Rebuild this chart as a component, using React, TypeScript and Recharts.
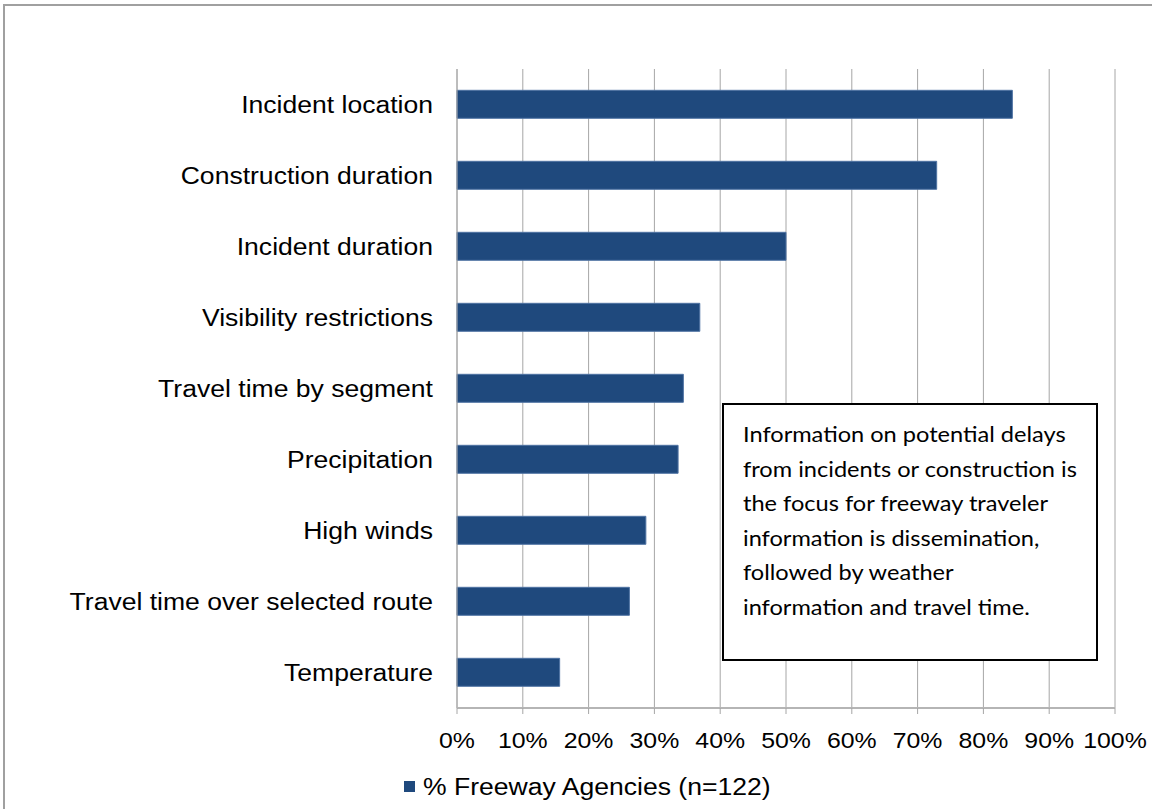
import React from "react";
import { BarChart, Bar, XAxis, YAxis, CartesianGrid, Legend } from "recharts";

const categories = [
  "Incident location",
  "Construction duration",
  "Incident duration",
  "Visibility restrictions",
  "Travel time by segment",
  "Precipitation",
  "High winds",
  "Travel time over selected route",
  "Temperature",
];
const values = [84.4, 72.9, 50.0, 36.9, 34.4, 33.6, 28.7, 26.2, 15.6];
const xTicks = [0, 10, 20, 30, 40, 50, 60, 70, 80, 90, 100];
const boundaryTicks = [0, 1, 2, 3, 4, 5, 6, 7, 8, 9];
const seriesName = "% Freeway Agencies (n=122)";
const noteLines = [
  "Information on potential delays",
  "from incidents or construction is",
  "the focus for freeway traveler",
  "information is dissemination,",
  "followed by weather",
  "information and travel time.",
];

const data = categories.map((name, i) => ({ name, value: values[i] }));

const FONT = "'Liberation Sans', Arial, sans-serif";
const GRID = "#a6a6a6";
const BAR = "#1f497d";
const STRETCH = 1.13;

const CategoryTick = (props: any) => {
  const { x, y, payload } = props;
  return (
    <g transform={`translate(${x},${y}) scale(${STRETCH},1)`}>
      <text x={0} y={0} dy="0.355em" textAnchor="end" fill="#000" fontSize={23.5} fontFamily={FONT}>
        {payload.value}
      </text>
    </g>
  );
};

const PercentTick = (props: any) => {
  const { x, y, payload } = props;
  return (
    <g transform={`translate(${x},${y}) scale(${STRETCH},1)`}>
      <text x={0} y={0} dy="0.71em" textAnchor="middle" fill="#000" fontSize={22} fontFamily={FONT}>
        {`${payload.value}%`}
      </text>
    </g>
  );
};

const LegendContent = (props: any) => {
  const items = props.payload || [];
  return (
    <div style={{ height: 51, paddingLeft: 404, paddingTop: 2, boxSizing: "border-box", lineHeight: "51px", whiteSpace: "nowrap" }}>
      {items.map((it: any, i: number) => (
        <span key={i}>
          <span
            style={{
              display: "inline-block",
              width: 11,
              height: 11,
              background: it.color,
              marginRight: 8,
              verticalAlign: "middle",
            }}
          />
          <span
            style={{
              display: "inline-block",
              transform: `scaleX(${STRETCH})`,
              transformOrigin: "left center",
              fontFamily: FONT,
              fontSize: 23.5,
              color: "#000",
              verticalAlign: "middle",
              lineHeight: "26px",
            }}
          >
            {it.value}
          </span>
        </span>
      ))}
    </div>
  );
};

export default function App() {
  return (
    <div style={{ position: "absolute", left: 0, top: 0, width: 1152, height: 809, background: "#fff" }}>
      <div
        style={{
          position: "absolute",
          left: 3,
          top: 4,
          width: 1149,
          height: 805,
          borderTop: "2px solid #a0a0a0",
          borderLeft: "2px solid #a0a0a0",
          boxSizing: "border-box",
        }}
      />
      <BarChart
        width={1152}
        height={809}
        data={data}
        layout="vertical"
        margin={{ top: 69, right: 37, left: 0, bottom: 0 }}
        barCategoryGap="30%"
        style={{ fontFamily: FONT }}
      >
        <CartesianGrid horizontal={false} vertical={true} stroke={GRID} />
        <YAxis
          yAxisId="bounds"
          orientation="left"
          type="number"
          domain={[0, 9]}
          ticks={boundaryTicks}
          width={0}
          tick={false}
          axisLine={false}
          tickLine={{ stroke: GRID }}
          tickSize={7}
          allowDataOverflow
        />
        <YAxis
          yAxisId="cat"
          type="category"
          dataKey="name"
          width={457}
          tickLine={false}
          tickSize={0}
          tickMargin={24}
          axisLine={{ stroke: GRID }}
          tick={<CategoryTick />}
          interval={0}
        />
        <XAxis
          type="number"
          domain={[0, 100]}
          ticks={xTicks}
          axisLine={{ stroke: "#b5b5b5", strokeWidth: 2 }}
          tickLine={{ stroke: GRID }}
          tickSize={6}
          tickMargin={18}
          height={50}
          tick={<PercentTick />}
          interval={0}
        />
        <Legend verticalAlign="bottom" align="left" content={<LegendContent />} wrapperStyle={{ height: 51 }} />
        <Bar
          yAxisId="cat"
          dataKey="value"
          name={seriesName}
          fill={BAR}
          stroke="#4f73a3"
          strokeWidth={1}
          isAnimationActive={false}
        />
      </BarChart>
      <div
        style={{
          position: "absolute",
          left: 722,
          top: 403,
          width: 376,
          height: 258,
          border: "2px solid #000",
          boxSizing: "border-box",
          background: "#fff",
          padding: "12px 0 0 19px",
          fontFamily: "Lato, 'Open Sans', sans-serif",
          fontSize: 20.5,
          lineHeight: "34.6px",
          color: "#000",
        }}
      >
        {noteLines.map((l, i) => (
          <div
            key={i}
            style={{ whiteSpace: "nowrap", transform: "scaleX(1.15)", transformOrigin: "left center" }}
          >
            {l}
          </div>
        ))}
      </div>
    </div>
  );
}
